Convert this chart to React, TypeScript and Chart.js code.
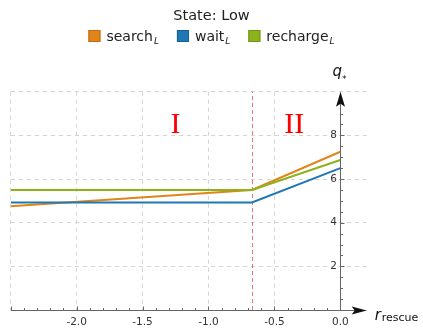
import React, { useEffect, useRef } from "react";
import { Chart, registerables } from "chart.js";
Chart.register(...registerables);

// ---- data ----
const rescue = [-2.5, -0.67, 0];
const searchL = [4.75, 5.5, 7.25];
const waitL = [4.93, 4.93, 6.5];
const rechargeL = [5.5, 5.5, 6.87];
const seriesNames = ["search", "wait", "recharge"];
const seriesValues = [searchL, waitL, rechargeL];
const seriesColors = ["#e0851a", "#1f77b4", "#8cb31c"];
const seriesBorders = ["#c06a10", "#16609a", "#6f9414"];
const xTickValues = [-2, -1.5, -1, -0.5, 0];
const yTickValues = [2, 4, 6, 8];
const boundary = -0.67;
const regionLabels = ["I", "II"];
const regionX = [-1.25, -0.35];
const regionY = 8.45;
const titleText = "State: Low";

const SANS = '"DejaVu Sans"';

const overlay = {
  id: "overlay",
  beforeDatasetsDraw(chart: any) {
    const { ctx, scales } = chart;
    const x = scales.x, y = scales.y;
    ctx.save();
    ctx.strokeStyle = "rgba(235,70,70,0.75)";
    ctx.lineWidth = 1;
    ctx.setLineDash([4, 3]);
    const bx = Math.round(x.getPixelForValue(boundary)) + 0.5;
    ctx.beginPath();
    ctx.moveTo(bx, y.getPixelForValue(0));
    ctx.lineTo(bx, y.getPixelForValue(10));
    ctx.stroke();
    ctx.setLineDash([]);
    ctx.fillStyle = "#ff0000";
    ctx.font = '30px "Liberation Serif"';
    ctx.textAlign = "center";
    ctx.textBaseline = "middle";
    regionLabels.forEach((t, i) => {
      ctx.fillText(t, x.getPixelForValue(regionX[i]), y.getPixelForValue(regionY));
    });
    ctx.restore();
  },
  afterDatasetsDraw(chart: any) {
    const { ctx, scales } = chart;
    const x = scales.x, y = scales.y;
    const x0 = Math.round(x.getPixelForValue(0)) + 0.5;
    const y0 = Math.round(y.getPixelForValue(0)) + 0.5;
    const xL = x.getPixelForValue(-2.5);
    const xR = x.getPixelForValue(0.2);
    const yT = y.getPixelForValue(10);
    ctx.save();
    ctx.setLineDash([]);
    ctx.strokeStyle = "#666";
    ctx.lineWidth = 1;
    ctx.beginPath();
    ctx.moveTo(xL, y0);
    ctx.lineTo(xR - 8, y0);
    ctx.moveTo(x0, y.getPixelForValue(0));
    ctx.lineTo(x0, yT + 8);
    ctx.stroke();
    ctx.beginPath();
    for (let k = -25; k <= 0; k++) {
      const px = Math.round(x.getPixelForValue(k / 10)) + 0.5;
      const len = k % 5 === 0 ? 4 : 2.5;
      ctx.moveTo(px, y0);
      ctx.lineTo(px, y0 - len);
    }
    for (let k = 1; k <= 18; k++) {
      const py = Math.round(y.getPixelForValue(k / 2)) + 0.5;
      const len = k % 4 === 0 ? 4 : 2.5;
      ctx.moveTo(x0, py);
      ctx.lineTo(x0 + len, py);
    }
    ctx.stroke();
    ctx.fillStyle = "#111";
    ctx.beginPath();
    ctx.moveTo(xR, y0);
    ctx.lineTo(xR - 15, y0 - 4);
    ctx.lineTo(xR - 12, y0);
    ctx.lineTo(xR - 15, y0 + 4);
    ctx.closePath();
    ctx.fill();
    ctx.beginPath();
    ctx.moveTo(x0, yT);
    ctx.lineTo(x0 - 4.5, yT + 15);
    ctx.lineTo(x0, yT + 12);
    ctx.lineTo(x0 + 4.5, yT + 15);
    ctx.closePath();
    ctx.fill();
    ctx.fillStyle = "#333";
    ctx.font = `10.5px ${SANS}`;
    ctx.textAlign = "center";
    ctx.textBaseline = "middle";
    xTickValues.forEach((v) => {
      ctx.fillText(v.toFixed(1), x.getPixelForValue(v), y0 + 11.5);
    });
    ctx.textAlign = "right";
    yTickValues.forEach((v) => {
      ctx.fillText(String(v), x0 - 3.5, y.getPixelForValue(v));
    });
    ctx.fillStyle = "#111";
    ctx.textAlign = "left";
    ctx.textBaseline = "alphabetic";
    ctx.font = `italic 15px ${SANS}`;
    ctx.fillText("q", x0 - 8, 76);
    ctx.font = `9px ${SANS}`;
    ctx.fillText("*", x0 + 1.5, 82);
    ctx.font = `italic 15px ${SANS}`;
    ctx.fillText("r", xR + 8, 319.5);
    ctx.font = `11px ${SANS}`;
    ctx.fillText("rescue", xR + 15, 321);
    const cx = chart.width / 2;
    ctx.fillStyle = "#222";
    ctx.font = `14.5px ${SANS}`;
    ctx.textAlign = "center";
    ctx.fillText(titleText, cx, 19.5);
    ctx.textAlign = "left";
    const widths = seriesNames.map((n) => {
      ctx.font = `14px ${SANS}`;
      const w1 = ctx.measureText(n).width;
      ctx.font = `italic 9px ${SANS}`;
      const w2 = ctx.measureText("L").width;
      return { w1, w2, total: 12 + 6 + w1 + 1 + w2 };
    });
    const gap = 18;
    const total = widths.reduce((s, w) => s + w.total, 0) + gap * (widths.length - 1);
    let lx = cx - total / 2;
    seriesNames.forEach((n, i) => {
      ctx.fillStyle = seriesColors[i];
      ctx.fillRect(lx, 30, 12, 12);
      ctx.strokeStyle = seriesBorders[i];
      ctx.lineWidth = 1;
      ctx.strokeRect(lx + 0.5, 30.5, 11, 11);
      ctx.fillStyle = "#222";
      ctx.font = `14px ${SANS}`;
      ctx.fillText(n, lx + 18, 41);
      ctx.font = `italic 9px ${SANS}`;
      ctx.fillText("L", lx + 18 + widths[i].w1 + 1, 44);
      lx += widths[i].total + gap;
    });
    ctx.restore();
  },
};

export default function App() {
  const ref = useRef<HTMLCanvasElement | null>(null);
  useEffect(() => {
    if (!ref.current) return;
    const chart = new Chart(ref.current, {
      type: "line",
      data: {
        datasets: seriesNames.map((name, i) => ({
          label: name,
          data: rescue.map((r, j) => ({ x: r, y: seriesValues[i][j] })),
          borderColor: seriesColors[i],
          backgroundColor: seriesColors[i],
          borderWidth: 2,
          pointRadius: 0,
          tension: 0,
          fill: false,
          order: [2, 1, 0][i],
        })),
      },
      options: {
        responsive: false,
        animation: false,
        devicePixelRatio: 1,
        layout: { padding: { left: 10.7, right: 56.3, top: 91.7, bottom: 20 } },
        plugins: {
          legend: { display: false },
          title: { display: false },
          tooltip: { enabled: false },
        },
        scales: {
          x: {
            type: "linear",
            min: -2.5,
            max: 0.2,
            ticks: { display: false, stepSize: 0.5, includeBounds: false },
            grid: { color: "#d4d4d4", drawTicks: false, lineWidth: 1 },
            border: { display: false, dash: [4, 4] },
          },
          y: {
            type: "linear",
            min: 0,
            max: 10,
            ticks: { display: false, stepSize: 2 },
            grid: { color: "#d4d4d4", drawTicks: false, lineWidth: 1 },
            border: { display: false, dash: [4, 4] },
          },
        },
      },
      plugins: [overlay],
    } as any);
    return () => chart.destroy();
  }, []);
  return (
    <div style={{ position: "fixed", left: 0, top: 0, width: 423, height: 330, background: "#fff" }}>
      <canvas ref={ref} width={423} height={330} style={{ display: "block" }} />
    </div>
  );
}
